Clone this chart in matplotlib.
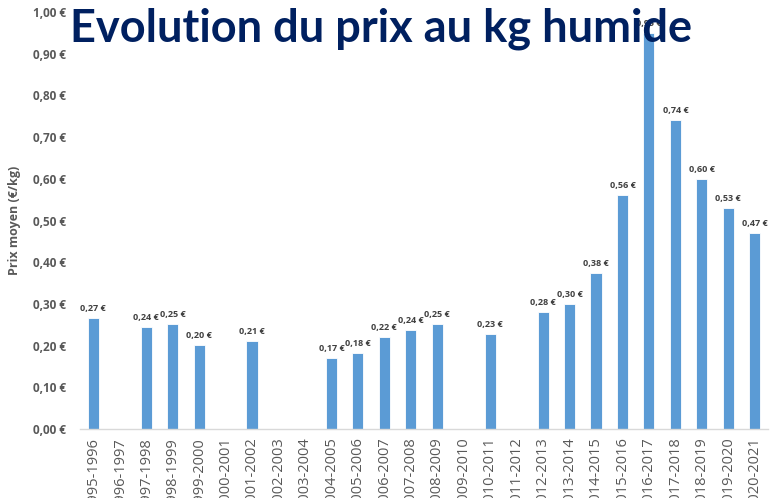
import matplotlib
matplotlib.use("Agg")
import matplotlib.pyplot as plt
import numpy as np

categories = ["1995-1996", "1996-1997", "1997-1998", "1998-1999", "1999-2000",
              "2000-2001", "2001-2002", "2002-2003", "2003-2004", "2004-2005",
              "2005-2006", "2006-2007", "2007-2008", "2008-2009", "2009-2010",
              "2010-2011", "2011-2012", "2012-2013", "2013-2014", "2014-2015",
              "2015-2016", "2016-2017", "2017-2018", "2018-2019", "2019-2020",
              "2020-2021"]
prices = [0.266, None, 0.244, 0.251, 0.201, None, 0.21, None, None, 0.17,
          0.182, 0.221, 0.237, 0.251, None, 0.229, None, 0.28, 0.30, 0.375,
          0.561, 0.95, 0.741, 0.60, 0.531, 0.469]
yticks = [0.0, 0.1, 0.2, 0.3, 0.4, 0.5, 0.6, 0.7, 0.8, 0.9, 1.0]

def eur(v):
    return f"{v:.2f}".replace(".", ",") + " €"

fig = plt.figure(figsize=(7.84, 4.98), dpi=100)
ax = fig.add_axes([80/784, 1 - 429/498, 688/784, 417/498])

x = np.arange(len(categories))
mask = [p is not None for p in prices]
xs = x[mask]
hs = [p for p in prices if p is not None]
ax.bar(xs, hs, width=0.42, color="#5B9BD5", edgecolor="white", linewidth=0.6, zorder=2)

for xi, h in zip(xs, hs):
    ax.text(xi, h + 0.012, eur(h), ha="center", va="bottom", fontsize=6.5,
            color="#404040", fontweight="bold", family="Open Sans", zorder=1)

ax.set_xlim(-0.5, len(categories) - 0.5)
ax.set_ylim(0, 1.0)
ax.set_yticks(yticks)
ax.set_yticklabels([eur(v) for v in yticks], fontsize=8.5, color="#595959",
                   fontweight="bold", family="Open Sans")
ax.set_xticks(x)
ax.set_xticklabels(categories, rotation=90, fontsize=10.5, color="#595959",
                   family="Open Sans", va="top")
ax.tick_params(axis="both", length=0, pad=6)
ax.tick_params(axis="y", pad=10)
for s in ["top", "right", "left"]:
    ax.spines[s].set_visible(False)
ax.spines["bottom"].set_color("#D9D9D9")
ax.spines["bottom"].set_linewidth(1.0)

fig.text(15/784, 1 - 220/498, "Prix moyen (€/kg)", rotation=90, ha="center", va="center",
         fontsize=9, color="#595959", fontweight="bold", family="Open Sans")

fig.text(70/784, 1 - 42/498, "Evolution du prix au kg humide", ha="left", va="baseline",
         fontsize=32.5, color="#002060", fontweight="bold", family="Lato", zorder=10)

fig.savefig("out.png", dpi=100)
